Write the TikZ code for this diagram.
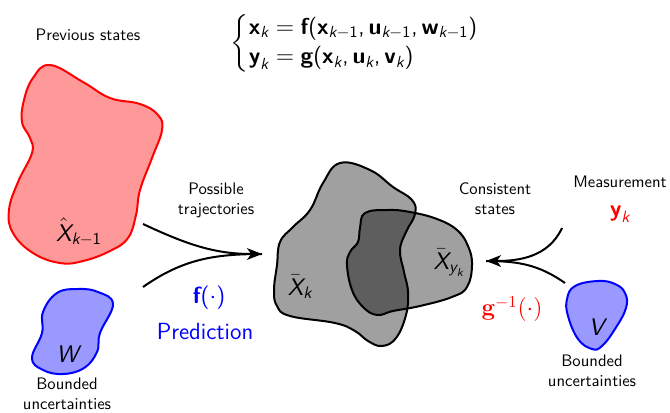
\documentclass[tikz,border=0pt]{standalone}
\usepackage{amsmath}
\usetikzlibrary{arrows.meta}
\definecolor{redfill}{HTML}{FF9999}
\definecolor{bluefill}{HTML}{9999FF}
\definecolor{grayfill}{HTML}{A0A0A0}
\definecolor{darkfill}{HTML}{5E5E5E}
\newcommand{\bvec}[1]{\textsf{\bfseries #1}}
\newcommand{\sit}[1]{\textsf{\slshape #1}}
\newcommand{\sn}[1]{\textsf{#1}}
\begin{document}
\begin{tikzpicture}[x=0.6pt,y=-0.6pt,
  every node/.style={font=\sffamily},
  lbl/.style={align=center, font=\sffamily\normalsize, inner sep=1pt},
  setlbl/.style={font=\sffamily\Large, inner sep=0pt},
  bigblue/.style={text=blue, font=\sffamily\fontsize{14}{16}\selectfont, inner sep=1pt},
  traj/.style={line width=1.2pt},
  tip/.style={-{Stealth[length=9pt,width=7pt,inset=2.5pt]}}]
\useasboundingbox (0,0) rectangle (670,412);

% previous states (red)
\draw[red, fill=redfill, line width=1.2pt] plot[smooth cycle, tension=0.7] coordinates {
 (50,65) (83,82) (110,98) (140,104) (158,115) (162,130) (152,158) (140,190) (136,215)
 (128,238) (110,251) (83,261) (60,263) (33,253) (13,233) (9,210) (18,182) (32,153)
 (30,138) (22,122) (24,100) (33,78)};
\node[setlbl] (xhat) at (79,232) {$\hat{\sit{X}}_{\sit{k}-\sn{1}}$};

% W (blue)
\draw[blue, fill=bluefill, line width=1.2pt] plot[smooth cycle, tension=0.7] coordinates {
 (113,304) (98,292) (78,289) (57,293) (43,312) (42,333) (32,358) (43,370) (63,374)
 (84,368) (97,352) (100,333)};
\node[setlbl] (w) at (69,354) {\sit{W}};

% V (blue)
\draw[blue, fill=bluefill, line width=1.2pt] plot[smooth cycle, tension=0.7] coordinates {
 (598,281) (615,284) (625,293) (626,308) (615,329) (602,346) (592,349) (578,339)
 (568,316) (567,299) (575,286)};
\node[setlbl] (v) at (598,327) {\sit{V}};

% gray sets
\def\bigblob{plot[smooth cycle, tension=0.7] coordinates {
 (340,163) (370,170) (393,187) (412,200) (415,214) (406,232) (400,250) (404,272)
 (408,292) (406,315) (396,338) (382,346) (368,341) (355,331) (335,323) (290,316)
 (277,306) (274,290) (277,265) (280,242) (293,227) (310,210) (323,183)}}
\def\smallblob{plot[smooth cycle, tension=0.7] coordinates {
 (365,213) (388,210) (410,212) (437,219) (457,230) (468,246) (472,265) (467,287)
 (452,297) (420,306) (393,311) (377,315) (363,307) (352,290) (347,265) (350,252)
 (358,242) (360,228)}}
\fill[grayfill] \bigblob;
\fill[grayfill] \smallblob;
\begin{scope}
  \clip \bigblob;
  \fill[darkfill] \smallblob;
\end{scope}
\draw[line width=1.2pt] \bigblob;
\draw[line width=1.2pt] \smallblob;
\node[setlbl] (xk) at (300,287) {$\bar{\sit{X}}_{\sit{k}}$};
\node[setlbl] (xyk) at (449,263) {$\bar{\sit{X}}_{\sit{y}_{\sit{k}}}$};

% texts
\node[lbl] (prev) at (88,35) {Previous states};
\node[lbl] (poss) at (216,200) {Possible\\trajectories};
\node[lbl] (cons) at (495,199) {Consistent\\states};
\node[lbl] (meas) at (620,182) {Measurement};
\node[lbl] (bu1) at (67,394) {Bounded\\uncertainties};
\node[lbl] (bu2) at (592,371) {Bounded\\uncertainties};
\node[font=\sffamily\fontsize{13.8}{15.6}\selectfont, inner sep=0pt] (eq) at (355,43)
 {\renewcommand{\arraystretch}{1.15}$\left\{\begin{array}{@{}l@{}}
 \bvec{x}_{\sit{k}}=\bvec{f}\sn{(}\bvec{x}_{\sit{k}-\sn{1}}\sn{,}\,\bvec{u}_{\sit{k}-\sn{1}}\sn{,}\,\bvec{w}_{\sit{k}-\sn{1}}\sn{)}\\
 \bvec{y}_{\sit{k}}=\bvec{g}\sn{(}\bvec{x}_{\sit{k}}\sn{,}\,\bvec{u}_{\sit{k}}\sn{,}\,\bvec{v}_{\sit{k}}\sn{)}\end{array}\right.$};
\node[bigblue] (f) at (209,298) {$\bvec{f}\sn{(}{\cdot}\sn{)}$};
\node[bigblue] (pred) at (205,332) {Prediction};
\node[text=red, font=\sffamily\fontsize{14}{16}\selectfont, inner sep=1pt] (yk) at (620,214) {$\bvec{y}_{\sit{k}}$};
\node[text=red, font=\rmfamily\fontsize{14.5}{17}\selectfont, inner sep=1pt] (ginv) at (512,309) {$\mathbf{g}^{-1}(\cdot)$};

% trajectories
\coordinate (a1) at (143,224);
\coordinate (a2) at (143,287);
\coordinate (atip) at (262,254);
\coordinate (b1) at (562,228);
\coordinate (b2) at (565,283);
\coordinate (btip) at (486,261);
\draw[traj] (a2) to[out=35, in=180] (atip);
\draw[traj, tip] (a1) to[out=-25, in=180] (atip);
\draw[traj] (b2) to[out=145, in=0] (btip);
\draw[traj, tip] (b1) to[out=-115, in=0] (btip);
\end{tikzpicture}
\end{document}
